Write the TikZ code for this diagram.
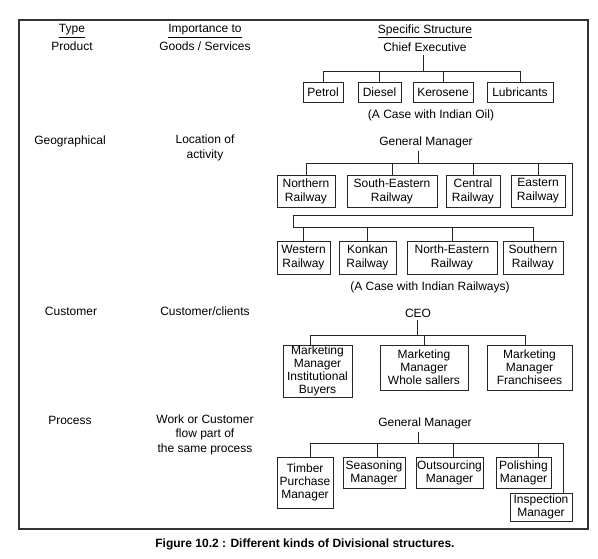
\documentclass[tikz,border=0pt]{standalone}
\usepackage{fontspec}
\setmainfont{Liberation Sans}
\begin{document}
\begin{tikzpicture}[x=1pt,y=-1pt,
  every node/.style={font=\fontsize{12}{13}\selectfont},
  txt/.style={inner sep=0pt, align=center},
  bx/.style={draw=black!85, line width=0.7pt, align=center, inner sep=0pt},
  rbx/.style={bx, font=\fontsize{12}{14}\selectfont},
  ln/.style={draw=black!85, line width=0.7pt},
  frame/.style={draw=black!80, line width=1.1pt}]
\useasboundingbox (0,0) rectangle (598,558);
\draw[frame] (19,20) rectangle (588,529);

% headings
\node[txt] (h1) at (72,31) {\underline{Type}};
\node[txt] (h2) at (205,31) {\underline{Importance to}};
\node[txt] (h3) at (425,31) {\underline{Specific Structure}};

% Product
\node[txt] (t1) at (72,46) {Product};
\node[txt] (i1) at (205,46) {Goods / Services};
\node[txt] (ce) at (425,47) {Chief Executive};
\node[bx, minimum width=40pt, minimum height=20pt] (petrol) at (323,92) {Petrol};
\node[bx, minimum width=43pt, minimum height=20pt] (diesel) at (379.5,92) {Diesel};
\node[bx, minimum width=60pt, minimum height=20pt] (kero) at (443,92) {Kerosene};
\node[bx, minimum width=66pt, minimum height=20pt] (lub) at (520,92) {Lubricants};
\node[txt] (c1) at (431,115) {(A Case with Indian Oil)};
\coordinate (pj) at (423,71);
\draw[ln, shorten <=3pt] (ce.south -| pj) -- (pj);
\draw[ln] (petrol.north) -- (petrol.north |- pj) -- (lub.north |- pj) -- (lub.north);
\draw[ln] (diesel.north) -- (diesel.north |- pj);
\draw[ln] (kero.north) -- (kero.north |- pj);

% Geographical
\node[txt] (t2) at (70,141) {Geographical};
\node[txt, font=\fontsize{12}{14.5}\selectfont] (i2) at (205,148) {Location of\\activity};
\node[txt] (gm1) at (426,142) {General Manager};
\node[rbx, minimum width=58pt, minimum height=32pt] (nr) at (306,191) {Northern\\Railway};
\node[rbx, minimum width=90pt, minimum height=32pt] (ser) at (392,191) {South-Eastern\\Railway};
\node[rbx, minimum width=54pt, minimum height=32pt] (cr) at (473,191) {Central\\Railway};
\node[rbx, minimum width=54pt, minimum height=32pt] (er) at (538,191) {Eastern\\Railway};
\node[rbx, minimum width=53pt, minimum height=33pt] (wr) at (303.5,257.5) {Western\\Railway};
\node[rbx, minimum width=57pt, minimum height=33pt] (kr) at (367.5,257.5) {Konkan\\Railway};
\node[rbx, minimum width=90pt, minimum height=33pt] (ner) at (452,257.5) {North-Eastern\\Railway};
\node[rbx, minimum width=60pt, minimum height=33pt] (sr) at (533,257.5) {Southern\\Railway};
\node[txt] (c2) at (430,287) {(A Case with Indian Railways)};
\coordinate (rj) at (418,163);
\coordinate (rr) at (572,215);
\coordinate (rl) at (293,227);
\draw[ln, shorten <=3pt] (gm1.south -| rj) -- (rj);
\draw[ln] (nr.north) -- (nr.north |- rj) -- (rr |- rj) -- (rr) -- (rl |- rr) -- (rl) -- (sr.north |- rl) -- (sr.north);
\draw[ln] (ser.north) -- (ser.north |- rj);
\draw[ln] (cr.north) -- (cr.north |- rj);
\draw[ln] (er.north) -- (er.north |- rj);
\draw[ln] (wr.north) -- (wr.north |- rl);
\draw[ln] (kr.north) -- (kr.north |- rl);
\draw[ln] (ner.north) -- (ner.north |- rl);

% Customer
\node[txt] (t3) at (71,311) {Customer};
\node[txt] (i3) at (205,311) {Customer/clients};
\node[txt] (ceo) at (418,313) {CEO};
\node[bx, minimum width=69pt, minimum height=52pt] (ib) at (317.5,371) {Marketing\\Manager\\Institutional\\Buyers};
\node[bx, minimum width=88pt, minimum height=45pt] (ws) at (424,367.5) {Marketing\\Manager\\Whole sallers};
\node[bx, minimum width=85pt, minimum height=45pt] (fr) at (529.5,367.5) {Marketing\\Manager\\Franchisees};
\coordinate (cj) at (417,335);
\coordinate (cd1) at (310,335);
\coordinate (cd3) at (525,335);
\draw[ln, shorten <=3pt] (ceo.south -| cj) -- (cj);
\draw[ln] (cd1 |- ib.north) -- (cd1) -- (cd3) -- (cd3 |- fr.north);
\draw[ln] (ws.north) -- (ws.north |- cj);

% Process
\node[txt] (t4) at (70,420) {Process};
\node[txt, font=\fontsize{12}{14.5}\selectfont] (i4) at (205,434.5) {Work or Customer\\flow part of\\the same process};
\node[txt] (gm2) at (425,423) {General Manager};
\node[bx, minimum width=56pt, minimum height=51pt] (tp) at (305,482.5) {Timber\\Purchase\\Manager};
\node[bx, minimum width=62pt, minimum height=31pt] (sm) at (374,472.5) {Seasoning\\Manager};
\node[bx, minimum width=67pt, minimum height=31pt] (om) at (449.5,472.5) {Outsourcing\\Manager};
\node[bx, minimum width=55pt, minimum height=31pt] (pm) at (523.5,472.5) {Polishing\\Manager};
\node[bx, minimum width=62pt, minimum height=28pt] (im) at (541,507) {Inspection\\Manager};
\coordinate (qj) at (418,443);
\coordinate (q1) at (310,443);
\coordinate (q2) at (377,443);
\coordinate (q3) at (453,443);
\coordinate (q4) at (538,443);
\coordinate (q5) at (563,443);
\draw[ln, shorten <=3pt] (gm2.south -| qj) -- (qj);
\draw[ln] (q1 |- tp.north) -- (q1) -- (q5) -- (q5 |- im.north);
\draw[ln] (q2 |- sm.north) -- (q2);
\draw[ln] (q3 |- om.north) -- (q3);
\draw[ln] (q4 |- pm.north) -- (q4);

% caption
\node[txt, font=\bfseries\fontsize{12}{13}\selectfont] (cap) at (305,544) {Figure 10.2 : Different kinds of Divisional structures.};
\end{tikzpicture}
\end{document}
